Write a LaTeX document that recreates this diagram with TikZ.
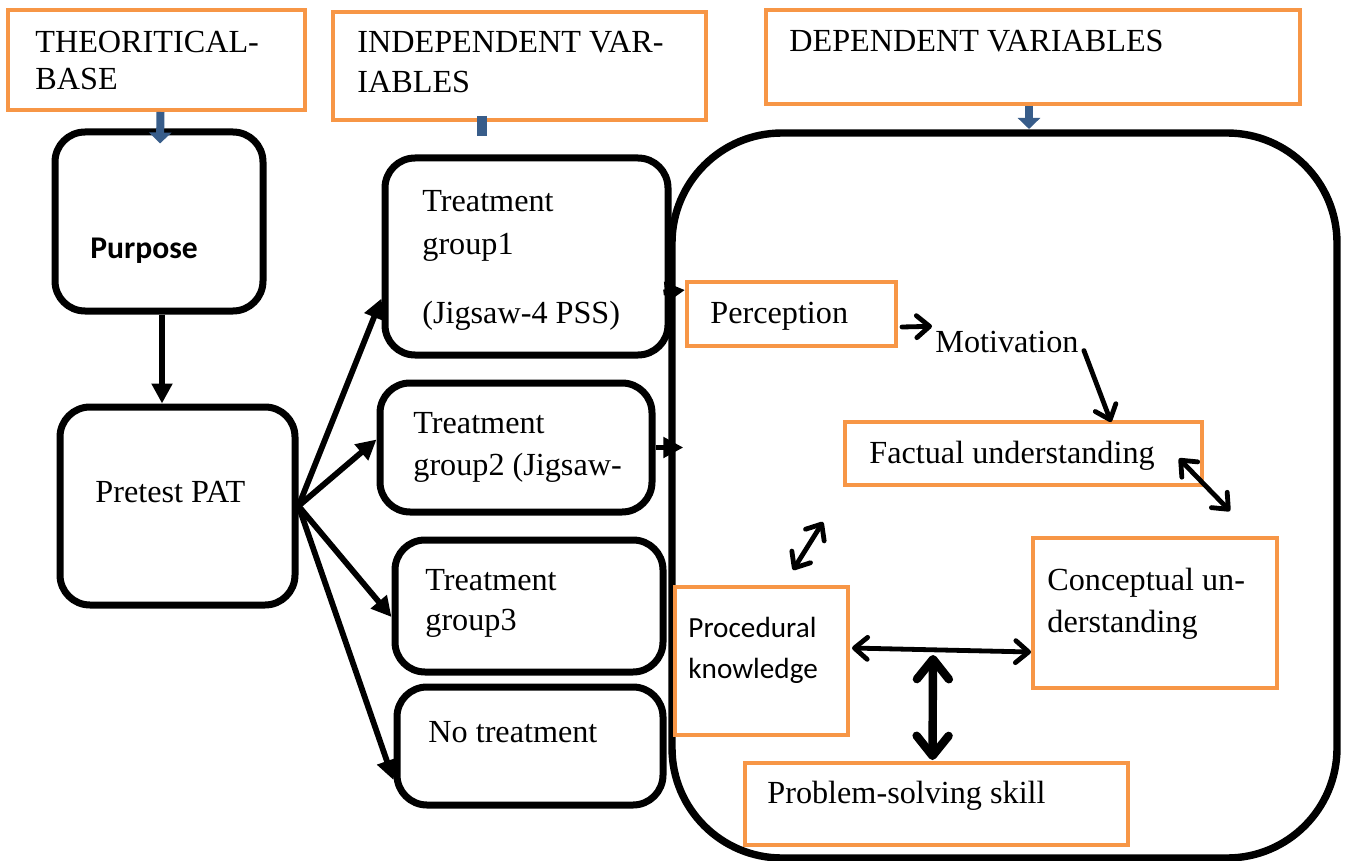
\documentclass[tikz,border=0pt]{standalone}
\usepackage{fontspec}
\setmainfont{Liberation Serif}
\newfontfamily\calibrifont{Carlito}
\usetikzlibrary{arrows.meta,fit,calc}
\definecolor{accentorange}{RGB}{247,150,70}
\definecolor{accentblue}{RGB}{56,93,138}

\tikzset{
  obox/.style={draw=accentorange, line width=2pt, inner sep=0pt, fill=white},
  rbox/.style={draw=black, line width=3.5pt, rounded corners=15pt, inner sep=0pt},
  bigbox/.style={draw=black, line width=3.7pt, rounded corners=55pt, inner sep=0pt},
  lbl/.style={anchor=base west, inner sep=0pt, font=\fontsize{16.1}{19}\selectfont},
  sanslbl/.style={anchor=base west, inner sep=0pt, font=\calibrifont\fontsize{14.6}{18}\selectfont},
  flow/.style={line width=2.9pt, -{Triangle[length=10pt,width=10pt]}},
  barb/.tip={Straight Barb[length=6.5pt,width=11pt,round]},
  bigbarb/.tip={Straight Barb[length=10pt,width=16pt,round]},
  rel/.style={line width=2.4pt, line cap=round, barb-barb},
  relone/.style={line width=2.4pt, line cap=round, -barb},
  relbold/.style={line width=4.2pt, line cap=round, bigbarb-bigbarb},
  bluearrow/.style={draw=accentblue, line width=4pt, -{Triangle[length=5.5pt,width=11pt]}},
  bluebar/.style={draw=accentblue, line width=5pt},
}

\begin{document}
\begin{tikzpicture}[x=0.5pt,y=-0.5pt]
\useasboundingbox (0,0) rectangle (1348,861);

% dependent-variable frame
\node[bigbox, fit={(672,133)(1337,858)}] (big) {};

% header boxes
\node[obox, fit={(8,10)(305,110)}] (theo) {};
\node[obox, fit={(333,12)(706,120)}] (indep) {};
\node[obox, fit={(766,10)(1300,104)}] (dep) {};
\node[lbl] (theo1) at (35,53) {THEORITICAL-};
\node[lbl] (theo2) at (35,90) {BASE};
\node[lbl] (indep1) at (357,53) {INDEPENDENT VAR-};
\node[lbl] (indep2) at (357,93) {IABLES};
\node[lbl] (dep1) at (789,52) {DEPENDENT VARIABLES};

% left column
\node[rbox, fit={(55,132)(263,311)}] (purp) {};
\node[rbox, fit={(60,407)(295,605)}] (pre) {};
\node[lbl, font=\calibrifont\bfseries\fontsize{15.8}{19}\selectfont] (purp1) at (90,258) {Purpose};
\node[lbl] (pre1) at (95,502) {Pretest PAT};

% treatment groups
\node[rbox, fit={(385,158)(668,355)}] (tg1) {};
\node[rbox, fit={(380,383)(652,512)}] (tg2) {};
\node[rbox, fit={(395,540)(663,672)}] (tg3) {};
\node[rbox, fit={(397,687)(663,805)}] (tg4) {};
\node[lbl] (tg1a) at (422,212) {Treatment};
\node[lbl] (tg1b) at (422,255) {group1};
\node[lbl] (tg1c) at (422,323) {(Jigsaw-4 PSS)};
\node[lbl] (tg2a) at (413,433) {Treatment};
\node[lbl] (tg2b) at (413,475) {group2 (Jigsaw-};
\node[lbl] (tg3a) at (425,590) {Treatment};
\node[lbl] (tg3b) at (425,630) {group3};
\node[lbl] (tg4a) at (428,742) {No treatment};

% dependent variables
\node[obox, fit={(687,282)(896,346)}] (perc) {};
\node[obox, fit={(845,422)(1202,485)}] (fact) {};
\node[obox, fit={(1033,538)(1277,688)}] (conc) {};
\node[obox, fit={(675,587)(848,735)}] (proc) {};
\node[obox, fit={(745,763)(1128,845)}] (ps) {};
\node[lbl] (perc1) at (710,323) {Perception};
\node[lbl] (mot) at (935,352) {Motivation};
\node[lbl] (fact1) at (869,463) {Factual understanding};
\node[lbl] (conc1) at (1047,590) {Conceptual un-};
\node[lbl] (conc2) at (1047,632) {derstanding};
\node[sanslbl] (proc1) at (688,637) {Procedural};
\node[sanslbl] (proc2) at (688,678) {knowledge};
\node[lbl] (ps1) at (767,803) {Problem-solving skill};

% connectors of the left part
\draw[flow] (purp.south -| 162,0) -- (pre.north -| 162,0);
\draw[flow] (pre.east) -- ($(tg1.west)+(0,42)$);
\draw[flow] (pre.east) -- ($(tg2.west)+(0,-8)$);
\draw[flow] (pre.east) -- ($(tg3.west)+(0,11)$);
\draw[flow] (pre.east) -- ($(tg4.west)+(0,34)$);
\draw[flow] ($(tg1.east)+(-8,36)$) -- ($(perc.north west)+(0,10)$);
\draw[flow] (tg2.east) -- ($(tg2.east -| big.west)+(15,0)$);

% header pointers
\draw[bluearrow] ($(theo.south)+(4,0)$) -- ($(purp.north)+(1,15)$);
\draw[bluebar] ($(indep.south)+(-38,-6)$) -- ($(indep.south)+(-38,14)$);
\draw[bluearrow] ($(dep.south)+(-4,0)$) -- ($(dep.south)+(-4,23)$);

% relations between the dependent variables
\coordinate (hub) at (933,655);
\draw[relone] ($(perc.east)+(4,13)$) -- ($(mot.north west)+(-3,-4)$);
\draw[relone] ($(mot.east)+(5,9)$) -- ($(fact.north west)+(268,2)$);
\draw[rel] ($(fact.east)+(-25,5)$) -- ($(conc.north west)+(199,-25)$);
\draw[rel] ($(fact.south west)+(-20,35)$) -- ($(proc.north west)+(120,-15)$);
\draw[rel] ($(proc.east)+(2,-13)$) -- ($(conc.west)+(0,39)$);
\draw[relbold] (hub) -- ($(ps.north)+(-4,-1)$);
\end{tikzpicture}
\end{document}
